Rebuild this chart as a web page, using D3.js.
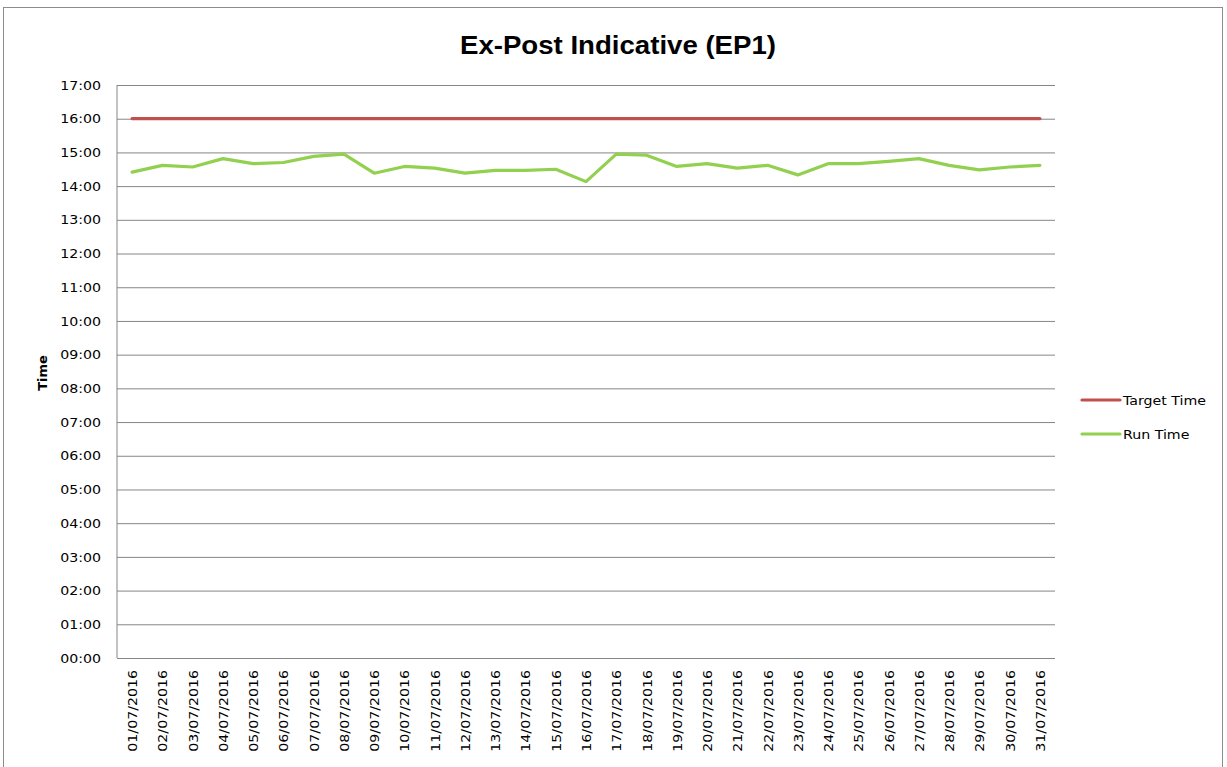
<!DOCTYPE html>
<html>
<head>
<meta charset="utf-8">
<script src="https://cdn.jsdelivr.net/npm/d3@7"></script>
<style>
  html, body { margin: 0; padding: 0; background: #fff; }
  svg { display: block; font-family: "DejaVu Sans", "Liberation Sans", Arial, sans-serif; }
</style>
</head>
<body>
<svg id="chart"></svg>
<script>
const W = 1227;
const H = 767;

// ── Data ──────────────────────────────────────────────────────────────────────

const DATES = d3.range(1, 32).map(d => `${String(d).padStart(2, '0')}/07/2016`);

const TARGET_TIME = DATES.map(() => '16:00');

const RUN_TIME = [
  '14:25', '14:37', '14:34', '14:49', '14:40', '14:42', '14:53', '14:57',
  '14:23', '14:35', '14:32', '14:23', '14:28', '14:28', '14:30', '14:08',
  '14:57', '14:55', '14:35', '14:40', '14:32', '14:37', '14:20', '14:40',
  '14:40', '14:44', '14:49', '14:37', '14:29', '14:34', '14:37',
];

const Y_TICKS = d3.range(0, 18); // hours 00:00 .. 17:00

const SERIES = [
  { name: 'Target Time', values: TARGET_TIME, color: '#c0504d' },
  { name: 'Run Time',    values: RUN_TIME,    color: '#92d050' },
];

// ── Helpers ───────────────────────────────────────────────────────────────────

const toHours = s => { const [h, m] = s.split(':').map(Number); return h + m / 60; };
const fmtHour = h => `${String(h).padStart(2, '0')}:00`;

// reference text is a touch wider than DejaVu at the same height
const stretch = sel => sel.each(function () {
  this.setAttribute('textLength', this.getComputedTextLength() * 1.09);
  this.setAttribute('lengthAdjust', 'spacingAndGlyphs');
});

// ── Layout ────────────────────────────────────────────────────────────────────

const M = { left: 117, right: 1055, top: 85, bottom: 658 };

const svg = d3.select('#chart').attr('width', W).attr('height', H);

// outer chart border
svg.append('rect')
  .attr('x', 3.5).attr('y', 7.5)
  .attr('width', 1219).attr('height', 780)
  .attr('fill', 'none').attr('stroke', '#8c8c8c').attr('stroke-width', 1);

const x = d3.scalePoint().domain(DATES).range([M.left, M.right]).padding(0.5);
const y = d3.scaleLinear().domain([0, 17]).range([M.bottom, M.top]);

// ── Gridlines & axes ──────────────────────────────────────────────────────────

svg.append('g')
  .attr('transform', `translate(${M.left},0)`)
  .call(d3.axisLeft(y).tickValues(Y_TICKS).tickFormat(fmtHour)
    .tickSize(0).tickPadding(16))
  .call(g => g.select('.domain').remove())
  .call(g => g.selectAll('.tick line')
    .attr('x1', 0).attr('x2', M.right - M.left)
    .attr('stroke', '#868686'))
  .call(g => g.selectAll('.tick text')
    .attr('font-size', 13).attr('fill', '#000')
    .attr('font-family', '"DejaVu Sans", sans-serif')
    .call(stretch));

// axis lines
svg.append('line')
  .attr('x1', M.left).attr('x2', M.left).attr('y1', M.top).attr('y2', M.bottom)
  .attr('stroke', '#868686');
svg.append('line')
  .attr('x1', M.left).attr('x2', M.right).attr('y1', M.bottom + 0.5).attr('y2', M.bottom + 0.5)
  .attr('stroke', '#868686');

// x labels
svg.append('g')
  .selectAll('text')
  .data(DATES)
  .join('text')
  .attr('transform', d => `translate(${x(d) + 5},${M.bottom + 12}) rotate(-90)`)
  .attr('text-anchor', 'end')
  .attr('font-size', 13)
  .text(d => d)
  .call(stretch);

// y axis title
svg.append('text')
  .attr('transform', 'translate(47,373) rotate(-90)')
  .attr('text-anchor', 'middle')
  .attr('font-size', 13)
  .attr('font-weight', 'bold')
  .text('Time');

// title
svg.append('text')
  .attr('x', 618).attr('y', 54)
  .attr('text-anchor', 'middle')
  .attr('font-family', '"Liberation Sans", Arial, sans-serif')
  .attr('font-size', 25)
  .attr('font-weight', 'bold')
  .attr('textLength', 316)
  .attr('lengthAdjust', 'spacingAndGlyphs')
  .text('Ex-Post Indicative (EP1)');

// ── Lines ─────────────────────────────────────────────────────────────────────

const line = d3.line()
  .x((d, i) => x(DATES[i]))
  .y(d => y(toHours(d)));

svg.append('g')
  .selectAll('path')
  .data(SERIES)
  .join('path')
  .attr('d', s => line(s.values))
  .attr('fill', 'none')
  .attr('stroke', s => s.color)
  .attr('stroke-width', 3.2)
  .attr('stroke-linejoin', 'round')
  .attr('stroke-linecap', 'round');

// ── Legend ────────────────────────────────────────────────────────────────────

const legend = svg.append('g')
  .selectAll('g')
  .data(SERIES)
  .join('g')
  .attr('transform', (d, i) => `translate(1082,${400 + i * 34})`);

legend.append('line')
  .attr('x1', 0).attr('x2', 38)
  .attr('stroke', d => d.color)
  .attr('stroke-width', 3.2)
  .attr('stroke-linecap', 'round');

legend.append('text')
  .attr('x', 41).attr('dy', '0.35em')
  .attr('font-size', 13)
  .text(d => d.name)
  .call(stretch);
</script>
</body>
</html>
